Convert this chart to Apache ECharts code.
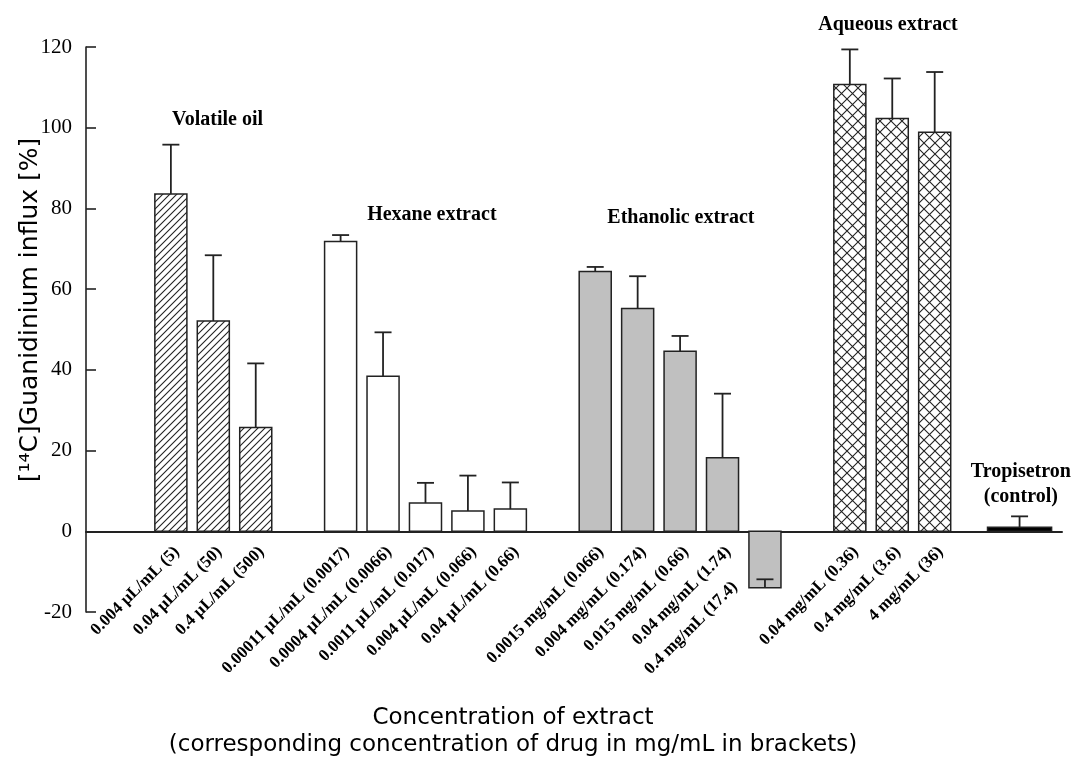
<!DOCTYPE html>
<html><head><meta charset="utf-8">
<script src="https://cdn.jsdelivr.net/npm/echarts@6/dist/echarts.min.js"></script>
<style>html,body{margin:0;padding:0;background:#fff}#c{width:1072px;height:757px}</style>
</head><body><div id="c"></div>
<script>
// ---- data (slot index = position in these lists; '' / null = gap) ----
const categories = [
  '0.004 μL/mL (5)', '0.04 μL/mL (50)', '0.4 μL/mL (500)', '',
  '0.00011 μL/mL (0.0017)', '0.0004 μL/mL (0.0066)', '0.0011 μL/mL (0.017)', '0.004 μL/mL (0.066)', '0.04 μL/mL (0.66)', '',
  '0.0015 mg/mL (0.066)', '0.004 mg/mL (0.174)', '0.015 mg/mL (0.66)', '0.04 mg/mL (1.74)', '0.4 mg/mL (17.4)', '',
  '0.04 mg/mL (0.36)', '0.4 mg/mL (3.6)', '4 mg/mL (36)', '',
  ''
];
const groupOf = [
  'volatile', 'volatile', 'volatile', null,
  'hexane', 'hexane', 'hexane', 'hexane', 'hexane', null,
  'ethanolic', 'ethanolic', 'ethanolic', 'ethanolic', 'ethanolic', null,
  'aqueous', 'aqueous', 'aqueous', null,
  'tropisetron'
];
const values = [83.6, 52.1, 25.7, null, 71.8, 38.4, 7.0, 5.0, 5.5, null, 64.4, 55.2, 44.6, 18.2, -14.0, null, 110.7, 102.3, 98.9, null, 1.0];
const errors = [12.2, 16.3, 15.9, null, 1.6, 10.9, 5.0, 8.8, 6.6, null, 1.1, 8.0, 3.8, 15.9, 2.1, null, 8.7, 9.9, 14.9, null, 2.7];
const groupNames = {
  volatile: 'Volatile oil', hexane: 'Hexane extract', ethanolic: 'Ethanolic extract',
  aqueous: 'Aqueous extract', tropisetron: 'Tropisetron\n(control)'
};
const yMin = -20, yMax = 120, yStep = 20;
const yTitle = '[¹⁴C]Guanidinium influx [%]';
const xTitle1 = 'Concentration of extract';
const xTitle2 = '(corresponding concentration of drug in mg/mL in brackets)';

// ---- styles / layout ----
function hatchTile() {
  const s = 7, c = document.createElement('canvas'); c.width = c.height = s;
  const g = c.getContext('2d'); g.fillStyle = '#fff'; g.fillRect(0, 0, s, s);
  g.strokeStyle = '#222'; g.lineWidth = 1.1; g.beginPath();
  g.moveTo(-1, s + 1); g.lineTo(s + 1, -1);
  g.moveTo(-1, 1); g.lineTo(1, -1);
  g.moveTo(s - 1, s + 1); g.lineTo(s + 1, s - 1);
  g.stroke(); return c;
}
function crossTile() {
  const s = 11, c = document.createElement('canvas'); c.width = c.height = s;
  const g = c.getContext('2d'); g.fillStyle = '#fff'; g.fillRect(0, 0, s, s);
  g.strokeStyle = '#222'; g.lineWidth = 1.1; g.beginPath();
  g.moveTo(-1, -1); g.lineTo(s + 1, s + 1);
  g.moveTo(-1, s + 1); g.lineTo(s + 1, -1);
  g.stroke(); return c;
}
const groupStyle = {
  volatile: { fill: { image: hatchTile(), repeat: 'repeat' }, width: 0.755 },
  hexane: { fill: '#ffffff', width: 0.755 },
  ethanolic: { fill: '#c0c0c0', width: 0.755 },
  aqueous: { fill: { image: crossTile(), repeat: 'repeat' }, width: 0.755 },
  tropisetron: { fill: '#000000', width: 1.51 }
};
const groupLabelAt = {
  volatile: [1.1, 101.9], hexane: [6.15, 78.4], ethanolic: [12.02, 77.6],
  aqueous: [16.9, 125.5], tropisetron: [20.03, 11.7]
};
const labelOffset = { dx: 6, dy: 18 };
const labelExtraOffset = { 14: [-36, 35] };
const serif = '"Liberation Serif", "Times New Roman", serif';
const sans = '"DejaVu Sans", sans-serif';

const barData = [], errData = [], lblData = [];
values.forEach((v, i) => {
  if (v == null) return;
  barData.push([i, v]);
  errData.push([i, v, v + errors[i]]);
  if (categories[i]) lblData.push([i, 0]);
});
const grpData = Object.keys(groupLabelAt).map(k => [groupLabelAt[k][0], groupLabelAt[k][1], k]);

const chart = echarts.init(document.getElementById('c'), null, { renderer: 'canvas' });
chart.setOption({
  animation: false,
  backgroundColor: '#fff',
  grid: { left: 86, right: 10, top: 47, bottom: 145, containLabel: false },
  xAxis: {
    type: 'value', min: -2, max: 21,
    axisLine: { show: true, onZero: true, lineStyle: { color: '#222', width: 2 } },
    axisTick: { show: false }, axisLabel: { show: false }, splitLine: { show: false }
  },
  yAxis: {
    type: 'value', min: yMin, max: yMax, interval: yStep,
    axisLine: { show: true, onZero: false, lineStyle: { color: '#222', width: 1.6 } },
    axisTick: { show: true, inside: true, length: 10, lineStyle: { color: '#222', width: 1.6 } },
    axisLabel: { color: '#000', fontFamily: serif, fontSize: 21, margin: 14 },
    splitLine: { show: false }
  },
  graphic: [
    { type: 'text', x: 30, y: 310, rotation: Math.PI / 2,
      style: { text: yTitle, font: '25px ' + sans, fill: '#000', textAlign: 'center', textVerticalAlign: 'middle', align: 'center', verticalAlign: 'middle' } },
    { type: 'text', x: 513, y: 718,
      style: { text: xTitle1, font: '23px ' + sans, fill: '#000', textAlign: 'center', textVerticalAlign: 'middle', align: 'center', verticalAlign: 'middle' } },
    { type: 'text', x: 513, y: 745,
      style: { text: xTitle2, font: '23px ' + sans, fill: '#000', textAlign: 'center', textVerticalAlign: 'middle', align: 'center', verticalAlign: 'middle' } }
  ],
  series: [
    {
      type: 'custom', name: 'bars', data: barData, silent: true,
      renderItem: function (params, api) {
        const i = api.value(0), v = api.value(1);
        const st = groupStyle[groupOf[i]];
        const a = api.coord([i - st.width / 2, v]);
        const b = api.coord([i + st.width / 2, 0]);
        return {
          type: 'rect',
          shape: { x: a[0], y: Math.min(a[1], b[1]), width: b[0] - a[0], height: Math.abs(b[1] - a[1]) },
          style: { fill: st.fill, stroke: '#222', lineWidth: 1.5 }
        };
      }
    },
    {
      type: 'custom', name: 'errors', data: errData, silent: true,
      renderItem: function (params, api) {
        const i = api.value(0);
        const a = api.coord([i, api.value(1)]);
        const b = api.coord([i, api.value(2)]);
        const s = { stroke: '#222', lineWidth: 1.8 };
        return {
          type: 'group', children: [
            { type: 'line', shape: { x1: a[0], y1: a[1], x2: b[0], y2: b[1] }, style: s },
            { type: 'line', shape: { x1: b[0] - 8.5, y1: b[1], x2: b[0] + 8.5, y2: b[1] }, style: s }
          ]
        };
      }
    },
    {
      type: 'custom', name: 'labels', data: lblData, silent: true,
      renderItem: function (params, api) {
        const i = api.value(0);
        const p = api.coord([i, 0]);
        const ex = labelExtraOffset[i] || [0, 0];
        return {
          type: 'text', x: p[0] + labelOffset.dx + ex[0], y: p[1] + labelOffset.dy + ex[1], rotation: Math.PI / 4,
          style: { text: categories[i], font: 'bold 17px ' + serif, fill: '#000',
                   textAlign: 'right', textVerticalAlign: 'middle', align: 'right', verticalAlign: 'middle' }
        };
      }
    },
    {
      type: 'custom', name: 'groups', data: grpData, silent: true,
      renderItem: function (params, api) {
        const d = grpData[params.dataIndex];
        const p = api.coord([d[0], d[1]]);
        return {
          type: 'text', x: p[0], y: p[1],
          style: { text: groupNames[d[2]], font: 'bold 20px ' + serif, fill: '#000', lineHeight: 25,
                   textAlign: 'center', textVerticalAlign: 'middle', align: 'center', verticalAlign: 'middle' }
        };
      }
    }
  ]
});
</script></body></html>
